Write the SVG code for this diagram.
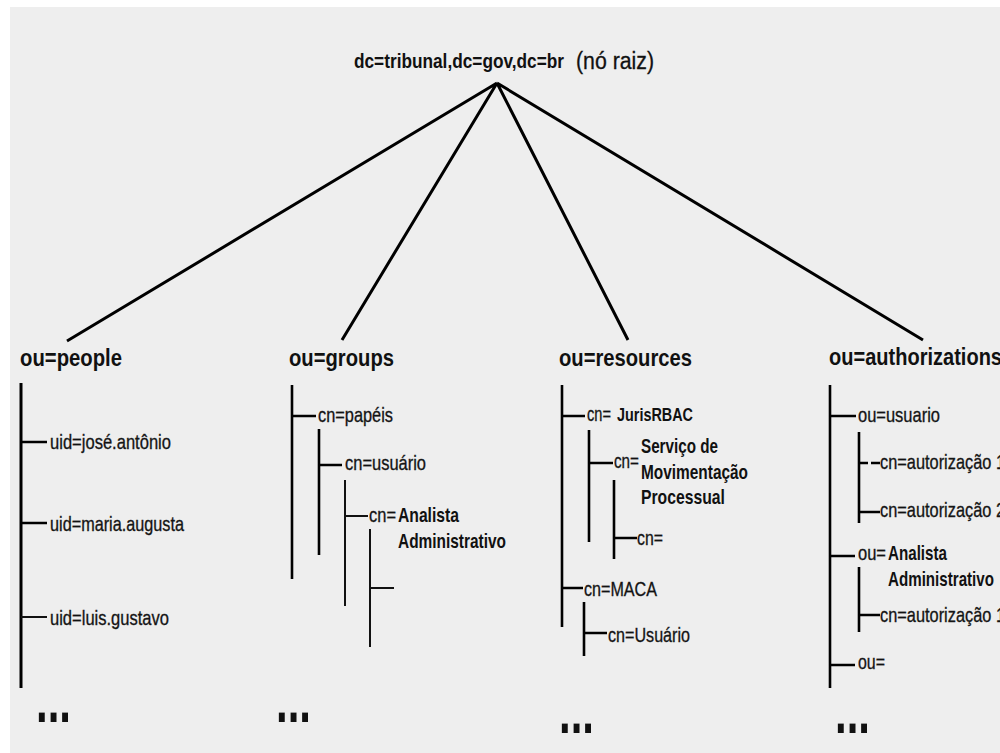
<svg xmlns="http://www.w3.org/2000/svg" width="1000" height="753" viewBox="0 0 1000 753">
  <defs>
    <style>
      text { font-family: "Liberation Sans Narrow", "Liberation Sans", Arial, sans-serif; fill: #111; }
      .root { font-size: 20px; font-weight: bold; }
      .rootnote { font-size: 23px; stroke: #111; stroke-width: 0.3; }
      .ou { font-size: 24px; font-weight: bold; }
      .leaf { font-size: 21px; stroke: #222; stroke-width: 0.35; }
      .strong { font-size: 21px; font-weight: bold; }
      .small { font-size: 18px; font-weight: bold; }
      .dots { font-size: 42px; font-weight: bold; }
      .edge { stroke: #000; stroke-width: 3; fill: none; stroke-linecap: butt; }
      .trunk { stroke: #000; stroke-width: 2.6; fill: none; }
      .thin { stroke: #111; stroke-width: 2; fill: none; }
    </style>
  </defs>

  <!-- page background with a thin white margin -->
  <rect x="0" y="0" width="1000" height="753" fill="#ffffff"/>
  <rect x="10" y="7" width="990" height="746" fill="#eeeeee"/>

  <!-- connectors: root edges and tree trunks/branches -->
  <g id="connectors">
    <path class="edge" d="M497 83 L67 341 M497 83 L342 340 M497 83 L628 340 M497 83 L923 340"/>

    <!-- people -->
    <path class="edge" d="M21 383 V688"/>
    <path class="trunk" d="M21 442 H47 M21 523 H47"/>
    <path class="thin" d="M21 617 H47"/>

    <!-- groups -->
    <path class="trunk" d="M292 385 V579 M292 416 H316"/>
    <path class="trunk" d="M319 429 V555 M319 465 H342"/>
    <path class="thin" d="M345 480 V606 M345 516 H368"/>
    <path class="thin" d="M370 529 V647 M370 588 H394"/>

    <!-- resources -->
    <path class="trunk" d="M562 385 V627 M562 416 H585 M562 588 H583"/>
    <path class="trunk" d="M589 430 V542 M589 463 H613"/>
    <path class="trunk" d="M614 480 V559 M614 538 H637"/>
    <path class="trunk" d="M584 602 V656 M584 633 H607"/>

    <!-- authorizations -->
    <path class="trunk" d="M830 385 V688 M830 416 H856 M830 556 H855 M830 665 H855"/>
    <path class="trunk" d="M859 432 V523 M859 512 H880 M859 463 H868 M871 463 H880"/>
    <path class="trunk" d="M859 567 V632 M859 615 H880"/>
  </g>

  <g id="root">
    <text class="root" x="354" y="68" textLength="210" lengthAdjust="spacingAndGlyphs">dc=tribunal,dc=gov,dc=br</text>
    <text class="rootnote" x="576" y="69" textLength="78" lengthAdjust="spacingAndGlyphs">(nó raiz)</text>
  </g>

  <g id="people">
    <text class="ou" x="20" y="366" textLength="102" lengthAdjust="spacingAndGlyphs">ou=people</text>
    <text class="leaf" x="50" y="449" textLength="121" lengthAdjust="spacingAndGlyphs">uid=josé.antônio</text>
    <text class="leaf" x="50" y="531" textLength="134" lengthAdjust="spacingAndGlyphs">uid=maria.augusta</text>
    <text class="leaf" x="50" y="625" textLength="119" lengthAdjust="spacingAndGlyphs">uid=luis.gustavo</text>
    <text class="dots" transform="translate(36 722) scale(1 1.5)">...</text>
  </g>

  <g id="groups">
    <text class="ou" x="289" y="366" textLength="105" lengthAdjust="spacingAndGlyphs">ou=groups</text>
    <text class="leaf" x="318" y="422" textLength="75" lengthAdjust="spacingAndGlyphs">cn=papéis</text>
    <text class="leaf" x="345" y="470" textLength="81" lengthAdjust="spacingAndGlyphs">cn=usuário</text>
    <text class="leaf" x="369" y="522" textLength="27" lengthAdjust="spacingAndGlyphs">cn=</text>
    <text class="strong" x="398" y="522" textLength="61" lengthAdjust="spacingAndGlyphs">Analista</text>
    <text class="strong" x="398" y="548" textLength="108" lengthAdjust="spacingAndGlyphs">Administrativo</text>
    <text class="dots" transform="translate(276 722) scale(1 1.5)">...</text>
  </g>

  <g id="resources">
    <text class="ou" x="559" y="366" textLength="133" lengthAdjust="spacingAndGlyphs">ou=resources</text>
    <text class="leaf" x="587" y="421" textLength="24" lengthAdjust="spacingAndGlyphs">cn=</text>
    <text class="small" x="617" y="421" textLength="76" lengthAdjust="spacingAndGlyphs">JurisRBAC</text>
    <text class="leaf" x="614" y="468" textLength="25" lengthAdjust="spacingAndGlyphs">cn=</text>
    <text class="strong" x="641" y="453" textLength="77" lengthAdjust="spacingAndGlyphs">Serviço de</text>
    <text class="strong" x="641" y="479" textLength="107" lengthAdjust="spacingAndGlyphs">Movimentação</text>
    <text class="strong" x="641" y="504" textLength="84" lengthAdjust="spacingAndGlyphs">Processual</text>
    <text class="leaf" x="637" y="545" textLength="26" lengthAdjust="spacingAndGlyphs">cn=</text>
    <text class="leaf" x="584" y="596" textLength="73" lengthAdjust="spacingAndGlyphs">cn=MACA</text>
    <text class="leaf" x="608" y="642" textLength="82" lengthAdjust="spacingAndGlyphs">cn=Usuário</text>
    <text class="dots" transform="translate(559 733) scale(1 1.5)">...</text>
  </g>

  <g id="authorizations">
    <text class="ou" x="829" y="365" textLength="173" lengthAdjust="spacingAndGlyphs">ou=authorizations</text>
    <text class="leaf" x="858" y="422" textLength="82" lengthAdjust="spacingAndGlyphs">ou=usuario</text>
    <text class="leaf" x="880" y="469" textLength="125" lengthAdjust="spacingAndGlyphs">cn=autorização 1</text>
    <text class="leaf" x="880" y="517" textLength="125" lengthAdjust="spacingAndGlyphs">cn=autorização 2</text>
    <text class="leaf" x="858" y="560" textLength="28" lengthAdjust="spacingAndGlyphs">ou=</text>
    <text class="strong" x="888" y="560" textLength="59" lengthAdjust="spacingAndGlyphs">Analista</text>
    <text class="strong" x="888" y="586" textLength="106" lengthAdjust="spacingAndGlyphs">Administrativo</text>
    <text class="leaf" x="880" y="622" textLength="125" lengthAdjust="spacingAndGlyphs">cn=autorização 1</text>
    <text class="leaf" x="858" y="669" textLength="27" lengthAdjust="spacingAndGlyphs">ou=</text>
    <text class="dots" transform="translate(835 733) scale(1 1.5)">...</text>
  </g>
</svg>
